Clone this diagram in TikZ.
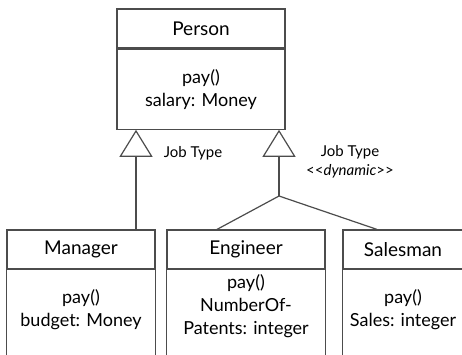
\documentclass[tikz,border=0pt]{standalone}
\usepackage{fontspec}
\setmainfont{Lato}
\usetikzlibrary{positioning,arrows.meta,calc}

\tikzset{
  classtitle/.style={draw=black!70, line width=1.2pt, minimum height=39pt, inner sep=0pt,
    font=\fontsize{19}{22}\selectfont},
  classbody/.style={minimum height=80pt, inner sep=0pt, align=center,
    font=\fontsize{18}{23}\selectfont},
  tie/.style={draw=black!70, line width=1.2pt},
  gen/.style={tie, -{Triangle[open, length=27pt, width=33pt, line width=1.2pt]}},
  note/.style={font=\fontsize{15}{19}\selectfont, align=center, inner sep=0pt}
}
% two separate angle brackets, no guillemet ligature
\newcommand{\lsterotype}{<\kern0pt<}
\newcommand{\rsterotype}{>\kern0pt>}

\begin{document}
\begin{tikzpicture}[x=1pt, y=-1pt]
\useasboundingbox (0,0) rectangle (462,354);
\clip (0,0) rectangle (462,354);
\coordinate (bottom) at (0,370);
\coordinate (fork) at (279,196);

% superclass
\node[classtitle, minimum width=168pt] (person) at (201,28.5) {Person};
\node[classbody, tie, minimum width=168pt, below=0pt of person] (personbody) {pay()\\salary: Money};

% subclasses, boxes run off the bottom
\node[classtitle, minimum width=148pt] (manager) at (81,249.5) {Manager};
\node[classtitle, minimum width=158pt] (engineer) at (246,249.5) {Engineer};
\node[classtitle, minimum width=120pt] (salesman) at (403,249.5) {Salesman};
\node[classbody, below=0pt of manager] (managerbody) {pay()\\budget: Money};
\node[classbody, below=0pt of engineer, yshift=4pt] (engineerbody) {pay()\\NumberOf-\\Patents: integer};
\node[classbody, below=0pt of salesman] (salesmanbody) {pay()\\Sales: integer};
\foreach \c in {manager,engineer,salesman}{
  \draw[tie] (\c.south west) -- (\c.south west |- bottom);
  \draw[tie] (\c.south east) -- (\c.south east |- bottom);
}

% generalisations
\draw[gen] ($(manager.north)+(55,0)$) coordinate (mgrfoot) -- (mgrfoot |- personbody.south);
\draw[gen] (fork) -- (fork |- personbody.south);
\draw[tie] ($(engineer.north)+(-29,0)$) -- (fork) -- ($(salesman.north)+(-26,0)$);

\node[note] (jobtype) at (193,153) {Job Type};
\node[note] (dyntype) at (350,162) {Job Type\\\lsterotype\textit{dynamic}\rsterotype};
\end{tikzpicture}
\end{document}
